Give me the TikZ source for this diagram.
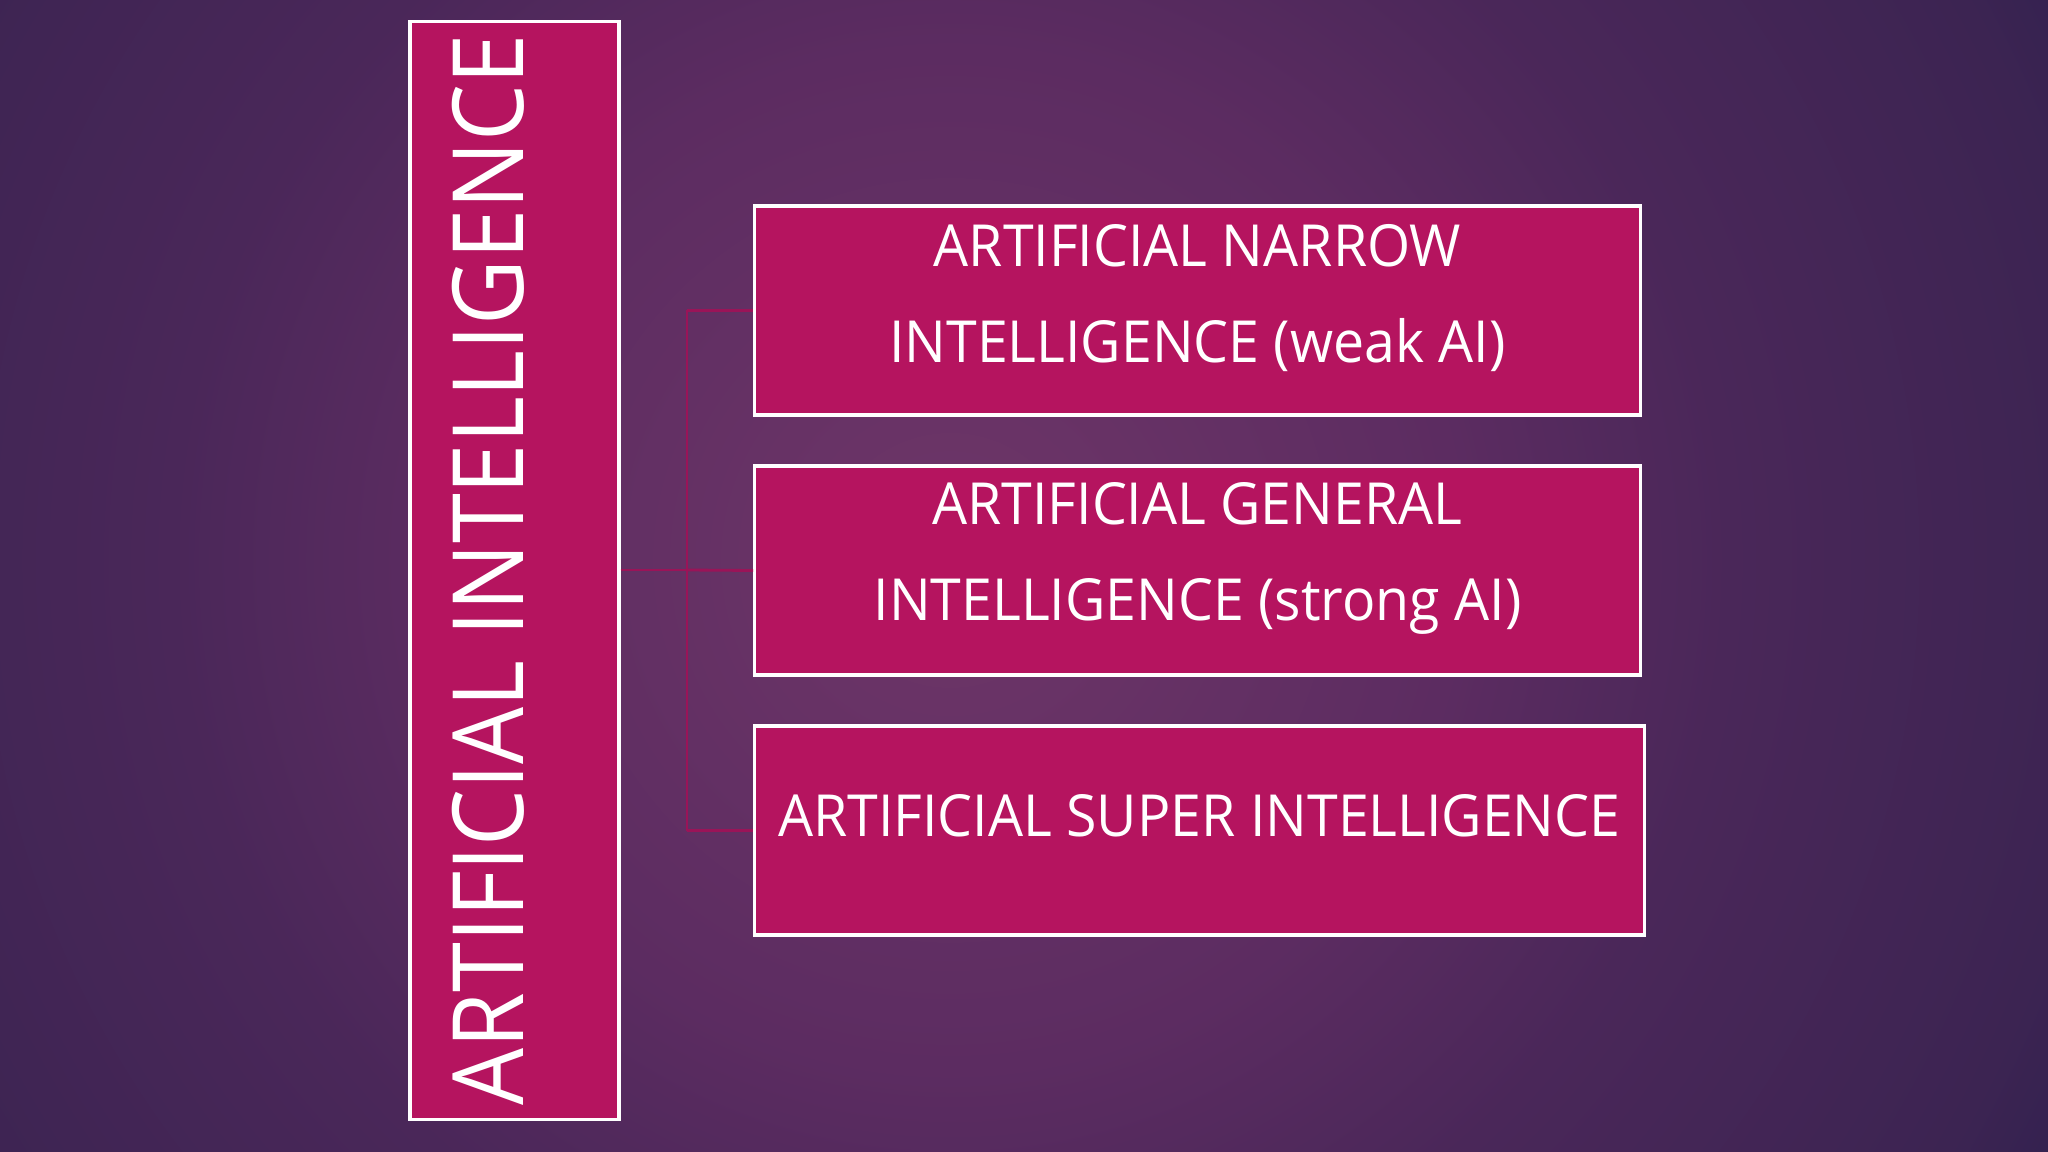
\documentclass[tikz,border=0pt]{standalone}
\usepackage{fontspec}
\setmainfont{Open Sans}
\newfontfamily\titlefont[FakeStretch=0.915]{Open Sans}
\newfontfamily\boxfont[FakeStretch=0.955]{Open Sans}
\usepackage{tikz}

\definecolor{glow0}{HTML}{6E3668}
\definecolor{glow1}{HTML}{5C2C61}
\definecolor{glow2}{HTML}{4A2759}
\definecolor{glow3}{HTML}{3C2452}
\definecolor{glow4}{HTML}{2C1F4E}
\definecolor{glow5}{HTML}{231B48}
\definecolor{glow6}{HTML}{201944}
\definecolor{boxfill}{HTML}{B5145F}
\definecolor{linkcol}{HTML}{9A1458}

\pgfdeclareradialshading{bgglow}{\pgfpoint{0bp}{0bp}}{color(0bp)=(glow0); color(9.1bp)=(glow1); color(13.9bp)=(glow2); color(20.7bp)=(glow3); color(24bp)=(glow4); color(27.8bp)=(glow5); color(35.4bp)=(glow6); color(50bp)=(glow6)}

\tikzset{
  aibox/.style={draw=white, line width=0.9pt, fill=boxfill, inner sep=0pt},
  aitext/.style={text=white, align=center, inner sep=0pt},
  link/.style={draw=linkcol, line width=0.8pt}
}

\begin{document}
\begin{tikzpicture}[x=0.01cm, y=-0.01cm]
    \useasboundingbox (0,0) rectangle (2048,1152);
    \begin{scope}
        \clip (0,0) rectangle (2048,1152);
        \shade[shading=bgglow] (950,560) circle (1400);
    \end{scope}

    \node[aibox, minimum width=2.09cm, minimum height=10.97cm] (ai) at (514.5,570.5) {};
    \node[aitext, rotate=90, font=\titlefont\fontsize{28}{30}\selectfont] (aititle) at (488,570) {ARTIFICIAL INTELLIGENCE};

    \node[aibox, minimum width=8.85cm, minimum height=2.09cm] (ani) at (1197.5,310.5) {};
    \node[aibox, minimum width=8.85cm, minimum height=2.09cm] (agi) at (1197.5,570.5) {};
    \node[aibox, minimum width=8.89cm, minimum height=2.09cm] (asi) at (1199.5,830.5) {};

    \node[aitext, font=\boxfont\fontsize{16.5}{27.3}\selectfont] (anitext) at ([yshift=0.12cm]ani.center) {ARTIFICIAL NARROW\\INTELLIGENCE (weak AI)};
    \node[aitext, font=\boxfont\fontsize{16.5}{27.3}\selectfont] (agitext) at ([yshift=0.12cm]agi.center) {ARTIFICIAL GENERAL\\INTELLIGENCE (strong AI)};
    \node[aitext, font=\boxfont\fontsize{16.5}{27.3}\selectfont] (asitext) at ([yshift=0.15cm]asi.center) {ARTIFICIAL SUPER INTELLIGENCE};

    \coordinate (fork) at (687,570);
    \draw[link] (ai.east |- fork) -- (fork);
    \draw[link] (fork |- ani.west) -- (fork |- asi.west);
    \draw[link] (fork |- ani.west) -- (ani.west);
    \draw[link] (fork) -- (agi.west);
    \draw[link] (fork |- asi.west) -- (asi.west);
\end{tikzpicture}
\end{document}
